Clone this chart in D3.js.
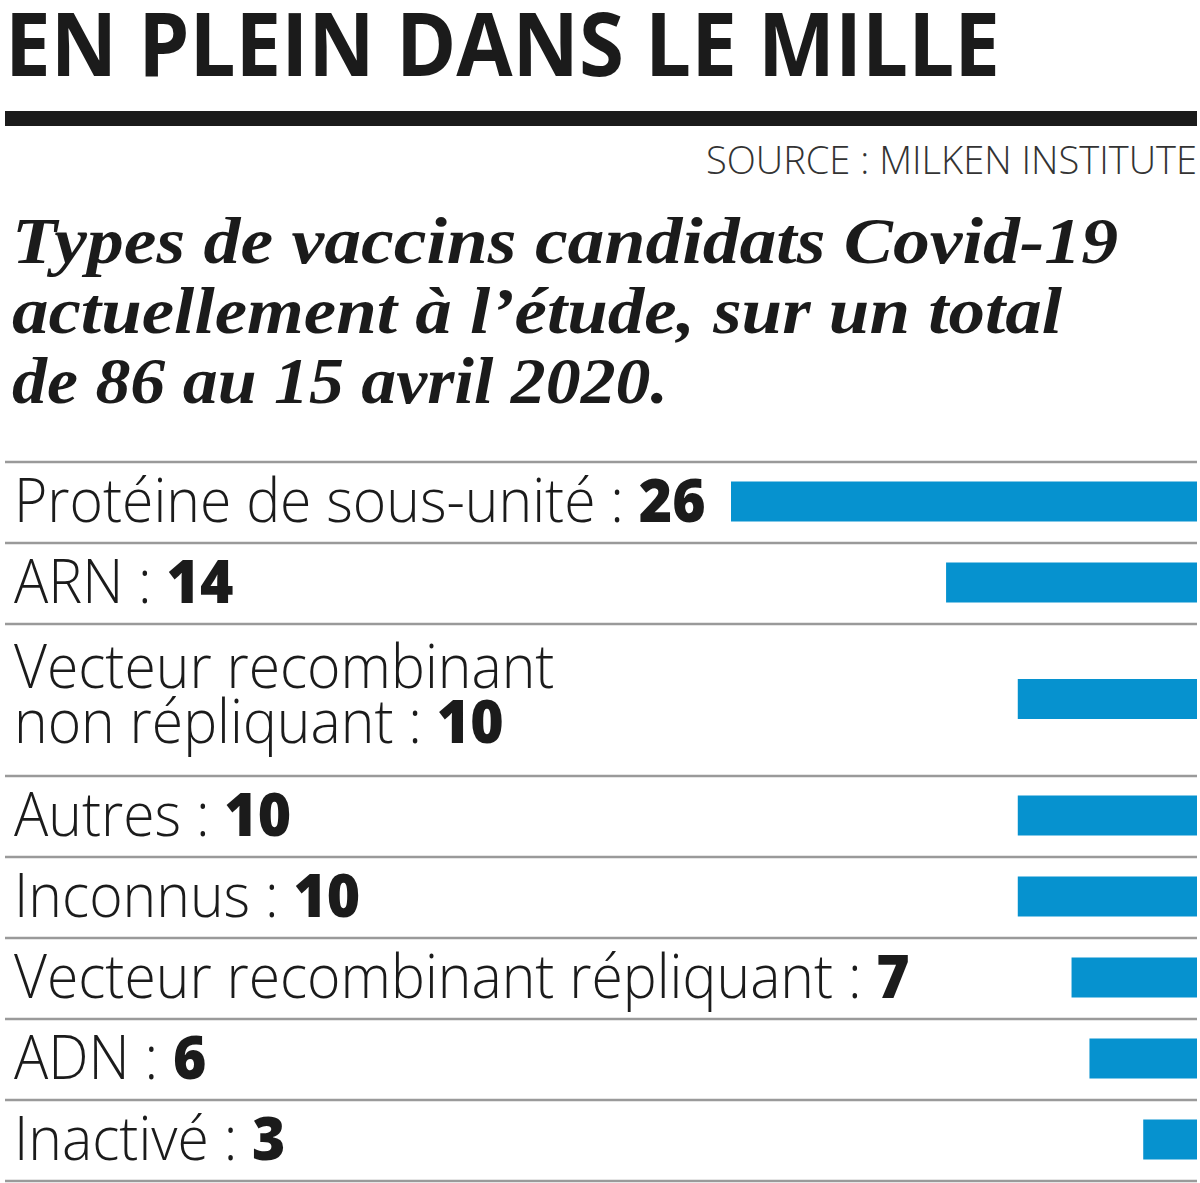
<!DOCTYPE html>
<html>
<head>
<meta charset="utf-8">
<script src="https://cdn.jsdelivr.net/npm/d3@7/dist/d3.min.js"></script>
<style>
  html, body { margin: 0; padding: 0; background: #fff; }
  svg { display: block; }
</style>
</head>
<body>
<svg id="chart" width="1200" height="1183"></svg>
<script>
// ---- Data ----
const titleText = "EN PLEIN DANS LE MILLE";
const sourceText = "SOURCE : MILKEN INSTITUTE";
const subtitleLines = [
  "Types de vaccins candidats Covid-19",
  "actuellement à l’étude, sur un total",
  "de 86 au 15 avril 2020."
];
const categories = [
  "Protéine de sous-unité",
  "ARN",
  "Vecteur recombinant\nnon répliquant",
  "Autres",
  "Inconnus",
  "Vecteur recombinant répliquant",
  "ADN",
  "Inactivé"
];
const values = [26, 14, 10, 10, 10, 7, 6, 3];

// ---- Layout ----
const left = 5, right = 1197;
const svg = d3.select("#chart");
const ink = "#1b1b1b";
const blue = "#0692cf";

// Title
svg.append("text")
  .attr("x", left).attr("y", 76)
  .attr("font-family", "'Open Sans', 'Liberation Sans', sans-serif")
  .attr("font-weight", 700)
  .attr("font-size", 87)
  .attr("fill", ink)
  .attr("textLength", 995)
  .attr("lengthAdjust", "spacingAndGlyphs")
  .text(titleText);

// thick rule
svg.append("rect")
  .attr("x", left).attr("y", 111)
  .attr("width", right - left).attr("height", 15)
  .attr("fill", ink);

// source
svg.append("text")
  .attr("x", right).attr("y", 174)
  .attr("text-anchor", "end")
  .attr("font-family", "'Open Sans', sans-serif")
  .attr("font-weight", 300)
  .attr("font-size", 38)
  .attr("fill", "#333")
  .attr("textLength", 491)
  .attr("lengthAdjust", "spacingAndGlyphs")
  .text(sourceText);

// subtitle
const subWidths = [1106, 1050, 656];
svg.append("g").selectAll("text")
  .data(subtitleLines)
  .join("text")
  .attr("x", 12)
  .attr("y", (d, i) => 263 + i * 70)
  .attr("font-family", "'Liberation Serif', 'DejaVu Serif', serif")
  .attr("font-style", "italic")
  .attr("font-weight", 700)
  .attr("font-size", 66)
  .attr("fill", ink)
  .attr("textLength", (d, i) => subWidths[i])
  .attr("lengthAdjust", "spacingAndGlyphs")
  .text(d => d);

// ---- Rows ----
const tableTop = 462;
const singleH = 81, doubleH = 152;
const rows = categories.map((c, i) => ({
  lines: c.split("\n"),
  value: values[i]
}));
let yAcc = tableTop;
rows.forEach(r => {
  r.top = yAcc;
  r.h = r.lines.length > 1 ? doubleH : singleH;
  yAcc += r.h;
});
const boundaries = [tableTop].concat(rows.map(r => r.top + r.h));

// x scale (bars anchored at right edge)
const x = d3.scaleLinear().domain([0, d3.max(values)]).range([0, 466]);

// separators
svg.append("g").selectAll("line")
  .data(boundaries)
  .join("line")
  .attr("x1", left).attr("x2", right)
  .attr("y1", d => d).attr("y2", d => d)
  .attr("stroke", "#9a9a9a")
  .attr("stroke-width", 2.5);

// bars
const barH = 40;
svg.append("g").selectAll("rect")
  .data(rows)
  .join("rect")
  .attr("x", d => right - x(d.value))
  .attr("y", d => d.top + d.h / 2 - barH / 2 - 1)
  .attr("width", d => x(d.value))
  .attr("height", barH)
  .attr("fill", blue);

// labels
const labelFont = "'Open Sans', 'Lato', sans-serif";
const labels = svg.append("g").selectAll("g.label")
  .data(rows)
  .join("g")
  .attr("class", "label");

labels.each(function(d) {
  const g = d3.select(this);
  const n = d.lines.length;
  d.lines.forEach((line, li) => {
    const baseline = n > 1 ? d.top + 64 + li * 55 : d.top + 60;
    const t = g.append("text")
      .attr("x", 0)
      .attr("y", baseline)
      .attr("font-family", labelFont)
      .attr("font-size", 60)
      .attr("fill", ink);
    if (li === n - 1) {
      t.append("tspan").attr("font-weight", 300).text(line + " : ");
      t.append("tspan").attr("font-weight", 800).text(d3.format("d")(d.value));
    } else {
      t.append("tspan").attr("font-weight", 300).text(line);
    }
  });
});

// compress labels horizontally so the longest single-line label fits the reference width
const refNode = labels.filter((d, i) => i === 5).select("text").node();
const natural = refNode.getComputedTextLength();
const sx = 896 / natural;
labels.attr("transform", `translate(14,0) scale(${sx},1)`);
</script>
</body>
</html>
